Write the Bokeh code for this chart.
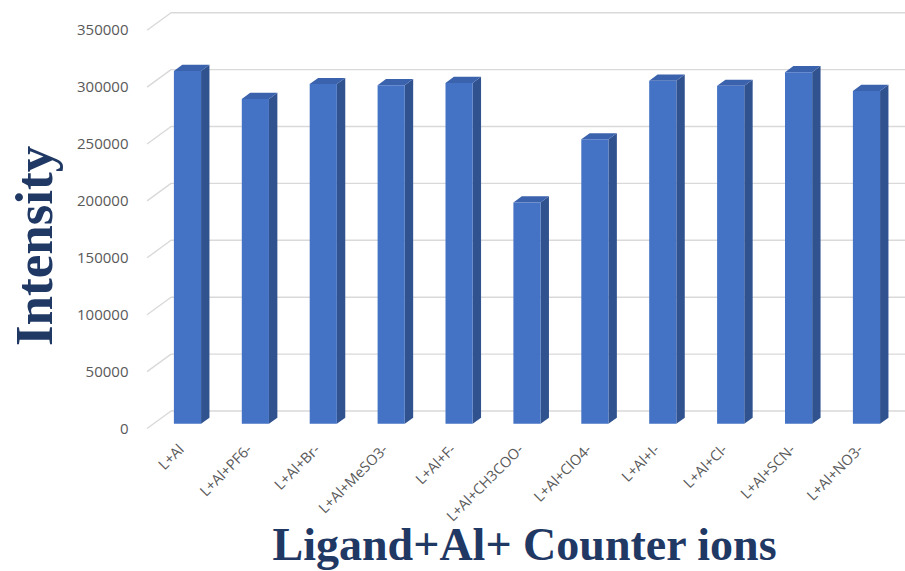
import math
from bokeh.plotting import figure
from bokeh.layouts import row
from bokeh.models import FixedTicker, Range1d
from bokeh.core.properties import value
from bokeh.embed import file_html
from bokeh.resources import INLINE

# ---- data ----
categories = ["L+Al", "L+Al+PF6-", "L+Al+Br-", "L+Al+MeSO3-", "L+Al+F-",
              "L+Al+CH3COO-", "L+Al+ClO4-", "L+Al+I-", "L+Al+Cl-",
              "L+Al+SCN-", "L+Al+NO3-"]
intensity = [310000, 285500, 298500, 297500, 299500, 194500,
             250000, 301500, 297000, 309000, 292500]
y_ticks = [0, 50000, 100000, 150000, 200000, 250000, 300000, 350000]
y_tick_labels = ["0", "50000", "100000", "150000", "200000", "250000", "300000", "350000"]
x_title = "Ligand+Al+ Counter ions"
y_title = "Intensity"

# ---- layout constants (page pixels) ----
PAGE_W, PAGE_H = 905, 571
TITLE_W = 72                  # width of the strip holding the y title
FRAME_L, FRAME_W, FRAME_H = 144, 761, 433
PX_CAT = 67.9                 # pixels per category
PX_VAL = 56.9 / 50000         # pixels per intensity unit
CAT0_X = 180.5                # page px of category 0 (front plane)
ZERO_Y = 428                  # page px of value 0 (front plane)

x_start = -(CAT0_X - FRAME_L) / PX_CAT
x_end = x_start + FRAME_W / PX_CAT
y_end = ZERO_Y / PX_VAL
y_start = -(FRAME_H - ZERO_Y) / PX_VAL

# 3-D depth of the chart floor/wall
DDX = 24 / PX_CAT
DDY = 17.5 / PX_VAL
BAR_FRONT = 0.27
BAR_DEPTH = 0.35
BAR_W = 0.40

FRONT = "#4472C4"
SIDE = "#30528F"
TOP = "#3B62AD"
GRID = "#D9D9D9"
TXT = "#595959"
TITLE = "#1F3864"

p = figure(frame_width=FRAME_W, frame_height=FRAME_H,
           x_range=Range1d(x_start, x_end), y_range=Range1d(y_start, y_end),
           min_border_left=FRAME_L - TITLE_W, min_border_right=0, min_border_top=0,
           min_border_bottom=PAGE_H - FRAME_H,
           output_backend="svg", toolbar_location=None)
p.outline_line_color = None
p.xgrid.visible = False
p.ygrid.visible = False
p.background_fill_color = "white"
p.border_fill_color = "white"

# back wall gridlines with diagonal connectors to the front
gx, gy = [], []
for v in y_ticks:
    gx.append([-0.5, -0.5 + DDX, x_end + 1])
    gy.append([v, v + DDY, v + DDY])
p.multi_line(gx, gy, line_color=GRID, line_width=1.4)

# bars (front, side and top faces)
sx, sy = BAR_FRONT * DDX, BAR_FRONT * DDY
bx, by = BAR_DEPTH * DDX, BAR_DEPTH * DDY
lefts = [i + sx - BAR_W / 2 for i in range(len(categories))]
rights = [i + sx + BAR_W / 2 for i in range(len(categories))]
bottoms = [sy] * len(categories)
tops = [v + sy for v in intensity]

side_x = [[r, r + bx, r + bx, r] for r in rights]
side_y = [[b, b + by, t + by, t] for b, t in zip(bottoms, tops)]
top_x = [[l, l + bx, r + bx, r] for l, r in zip(lefts, rights)]
top_y = [[t, t + by, t + by, t] for t in tops]

p.patches(side_x, side_y, fill_color=SIDE, line_color=None)
p.patches(top_x, top_y, fill_color=TOP, line_color=None)
p.quad(left=lefts, right=rights, bottom=bottoms, top=tops,
       fill_color=FRONT, line_color=None)

# axes
p.yaxis.ticker = FixedTicker(ticks=y_ticks)
p.yaxis.major_label_overrides = {t: s for t, s in zip(y_ticks, y_tick_labels)}
p.xaxis.ticker = FixedTicker(ticks=list(range(len(categories))))
p.xaxis.major_label_overrides = {i: c for i, c in enumerate(categories)}
p.xaxis.major_label_orientation = math.pi / 4
for ax in (p.xaxis, p.yaxis):
    ax.axis_line_color = None
    ax.major_tick_line_color = None
    ax.minor_tick_line_color = None
    ax.major_tick_out = 0
    ax.major_tick_in = 0
    ax.major_label_text_font = "Open Sans"
    ax.major_label_text_color = TXT
p.yaxis.major_label_text_font_size = "15px"
p.xaxis.major_label_text_font_size = "14.5px"
p.yaxis.major_label_standoff = 16
p.xaxis.major_label_standoff = 13

p.xaxis.axis_label = x_title
p.xaxis.axis_label_text_font = "Liberation Serif"
p.xaxis.axis_label_text_font_style = "bold"
p.xaxis.axis_label_text_font_size = "46px"
p.xaxis.axis_label_text_color = TITLE
p.xaxis.axis_label_standoff = -16

# strip on the left holding the vertical y title (its frame is aligned
# with the main plot frame by the row layout)
t = figure(width=TITLE_W, height=PAGE_H, x_range=Range1d(0, TITLE_W),
           y_range=Range1d(0, FRAME_H), min_border=0,
           x_axis_location=None, y_axis_location=None,
           output_backend="svg", toolbar_location=None)
t.outline_line_color = None
t.xgrid.visible = False
t.ygrid.visible = False
t.text(x=[33], y=[FRAME_H - 246], text=[y_title], angle=math.pi / 2,
       text_align="center", text_baseline="middle",
       text_font=value("Liberation Serif"), text_font_style="bold",
       text_font_size="53px", text_color=TITLE)

layout = row(t, p, spacing=0)
open("out.html", "w").write(file_html(layout, INLINE))
